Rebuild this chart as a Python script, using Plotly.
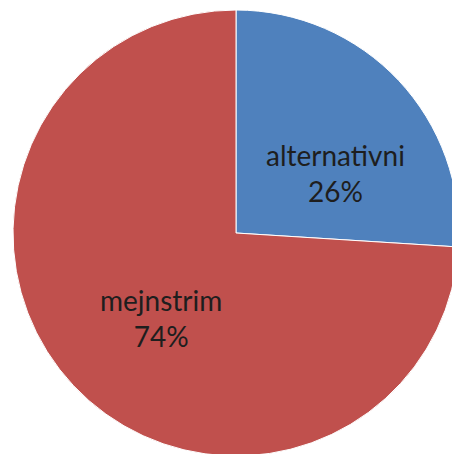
import plotly.graph_objects as go

# Share of listeners by music type
labels = ["alternativni", "mejnstrim"]
values = [26, 74]
colors = ["#4F81BD", "#C0504D"]

# Label anchor points (paper coordinates) for each slice
label_x = [0.722, 0.332]
label_y = [0.634, 0.309]

fig = go.Figure(
    go.Pie(
        labels=labels,
        values=values,
        sort=False,
        direction="clockwise",
        rotation=0,
        marker=dict(colors=colors, line=dict(color="#ffffff", width=1)),
        textinfo="none",
        showlegend=False,
        hoverinfo="label+percent",
    )
)

total = sum(values)
for lab, val, x, y in zip(labels, values, label_x, label_y):
    fig.add_annotation(
        x=x, y=y, xref="paper", yref="paper",
        text=f"{lab}<br>{round(100 * val / total)}%",
        showarrow=False,
        xanchor="center", yanchor="middle",
        font=dict(family="Lato, Carlito, sans-serif", size=28, color="#1e1e1e"),
    )

fig.update_layout(
    width=470,
    height=466,
    margin=dict(l=13, r=11, t=10, b=10),
    paper_bgcolor="#ffffff",
    plot_bgcolor="#ffffff",
)

fig.write_html("out.html")
